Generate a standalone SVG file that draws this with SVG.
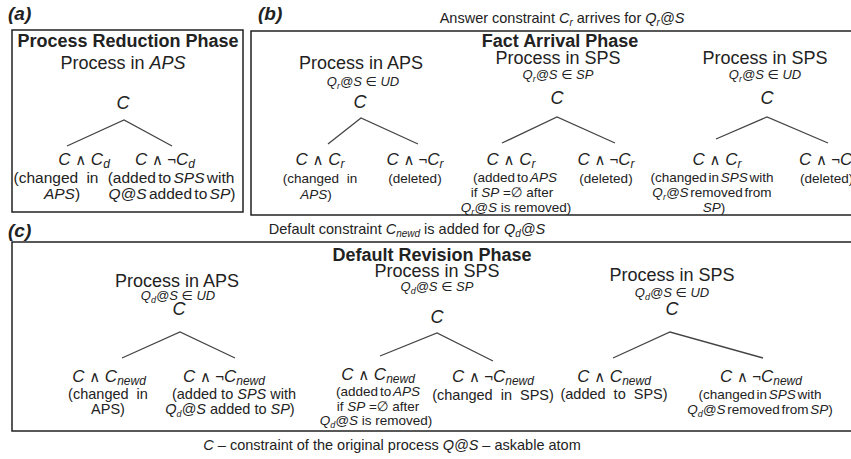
<svg xmlns="http://www.w3.org/2000/svg" width="851" height="459" viewBox="0 0 851 459">
<style>
text{font-family:"Liberation Sans","DejaVu Sans",Arial,sans-serif;fill:#222}
.lab{font-size:19px;font-weight:bold;font-style:italic}
.ttl{font-size:18px;font-weight:bold;text-anchor:middle}
.pr{font-size:18px;text-anchor:middle}
.q{font-size:13px;font-style:italic;text-anchor:middle}
.c{font-size:18px;font-style:italic;text-anchor:middle}
.ex{font-size:17px;font-style:italic;text-anchor:middle}
.op{font-style:normal;font-size:15px}
.an{font-size:13.5px;text-anchor:middle}
.anA{font-size:15.5px;text-anchor:middle}
.anC{font-size:14.5px;text-anchor:middle}
.tight{word-spacing:-2px}
.wide{word-spacing:4px}
.cap{font-size:14.5px;text-anchor:middle}
.st{text-anchor:start}
.n{font-style:normal}
.i{font-style:italic}
.box{fill:none;stroke:#222;stroke-width:1.5}
.ln{stroke:#444;stroke-width:1.3;fill:none}
</style>
<rect width="851" height="459" fill="#fff"/>
<g id="frames">
<rect class="box" x="12" y="30" width="231" height="182"/>
<rect class="box" x="251" y="31" width="620" height="184"/>
<rect class="box" x="12" y="242" width="860" height="189"/>
</g>
<g id="labels">
<text class="lab" x="8" y="20">(a)</text>
<text class="lab" x="258" y="20">(b)</text>
<text class="lab" x="8" y="237">(c)</text>
<text class="cap" x="562" y="23">Answer constraint <tspan class="i">C<tspan font-size="10" dy="3">r</tspan></tspan><tspan dy="-3"> arrives  for </tspan><tspan class="i">Q<tspan font-size="10" dy="3">r</tspan><tspan dy="-3">@S</tspan></tspan></text>
<text class="cap" x="407" y="234">Default  constraint <tspan class="i">C<tspan font-size="10" dy="3">newd</tspan></tspan><tspan dy="-3"> is added for </tspan><tspan class="i">Q<tspan font-size="10" dy="3">d</tspan><tspan dy="-3">@S</tspan></tspan></text>
<text class="cap" x="392" y="450"><tspan class="i">C</tspan> – constraint of the original  process <tspan class="i">Q@S</tspan> – askable atom</text>
</g>
<g id="connectors">
<polyline class="ln" points="67,146 124,120 172,146"/>
<polyline class="ln" points="328,144 361,118 418,144"/>
<polyline class="ln" points="502,143 557,117 615,143"/>
<polyline class="ln" points="716,139 767,117 828,143"/>
<polyline class="ln" points="122,358 180,332 235,358"/>
<polyline class="ln" points="380,356 437,333 493,361"/>
<polyline class="ln" points="613,358 670,332 763,358"/>
</g>
<g id="panel-a">
<text class="ttl" x="128" y="47" font-size="18.3">Process Reduction Phase</text>
<text class="pr" x="123" y="69">Process in <tspan class="i">APS</tspan></text>
<text class="c" x="123" y="109">C</text>
<text class="ex" x="84" y="165">C <tspan class="op">∧</tspan> C<tspan font-size="12" dy="3">d</tspan></text>
<text class="anA wide" x="56" y="183">(changed in</text>
<text class="anA" x="62" y="199"><tspan class="i">APS</tspan>)</text>
<text class="ex" x="165" y="165">C <tspan class="op">∧ ¬</tspan>C<tspan font-size="12" dy="3">d</tspan></text>
<text class="anA tight" x="171" y="183">(added to <tspan class="i">SPS</tspan> with</text>
<text class="anA tight" x="172" y="199"><tspan class="i">Q@S</tspan> added to <tspan class="i">SP</tspan>)</text>
</g>
<g id="panel-b">
<text class="ttl" x="560" y="47">Fact Arrival  Phase</text>
<g id="b-tree1">
<text class="pr" x="361" y="69">Process in APS</text>
<text class="q" x="363" y="86">Q<tspan font-size="9" dy="3">r</tspan><tspan dy="-3">@S </tspan><tspan class="n">∈</tspan> UD</text>
<text class="c" x="360" y="108">C</text>
<text class="ex" x="320" y="165">C <tspan class="op">∧</tspan> C<tspan font-size="12" dy="3">r</tspan></text>
<text class="an wide" x="320" y="183">(changed in</text>
<text class="an" x="316" y="199"><tspan class="i">APS</tspan>)</text>
<text class="ex" x="415" y="165">C <tspan class="op">∧ ¬</tspan>C<tspan font-size="12" dy="3">r</tspan></text>
<text class="an" x="415" y="183">(deleted)</text>
</g>
<g id="b-tree2">
<text class="pr" x="558" y="64">Process in SPS</text>
<text class="q" x="558" y="79">Q<tspan font-size="9" dy="3">r</tspan><tspan dy="-3">@S </tspan><tspan class="n">∈</tspan> SP</text>
<text class="c" x="557" y="104">C</text>
<text class="ex" x="511" y="165">C <tspan class="op">∧</tspan> C<tspan font-size="12" dy="3">r</tspan></text>
<text class="an tight" x="515" y="182">(added to <tspan class="i">APS</tspan></text>
<text class="an" x="512" y="197">if <tspan class="i">SP</tspan> =∅ after</text>
<text class="an" x="516" y="212"><tspan class="i">Q<tspan font-size="9" dy="3">r</tspan><tspan dy="-3">@S</tspan></tspan> is removed)</text>
<text class="ex" x="606" y="165">C <tspan class="op">∧ ¬</tspan>C<tspan font-size="12" dy="3">r</tspan></text>
<text class="an" x="606" y="183">(deleted)</text>
</g>
<g id="b-tree3">
<text class="pr" x="765" y="64">Process in SPS</text>
<text class="q" x="765" y="79">Q<tspan font-size="9" dy="3">r</tspan><tspan dy="-3">@S </tspan><tspan class="n">∈</tspan> UD</text>
<text class="c" x="767" y="104">C</text>
<text class="ex" x="717" y="165">C <tspan class="op">∧</tspan> C<tspan font-size="12" dy="3">r</tspan></text>
<text class="an tight" x="712" y="182">(changed in <tspan class="i">SPS</tspan> with</text>
<text class="an tight" x="712" y="197"><tspan class="i">Q<tspan font-size="9" dy="3">r</tspan><tspan dy="-3">@S</tspan></tspan> removed from</text>
<text class="an" x="714" y="212"><tspan class="i">SP</tspan>)</text>
<text class="ex st" x="799" y="165">C <tspan class="op">∧ ¬</tspan>C<tspan font-size="12" dy="3">r</tspan></text>
<text class="an st" x="800" y="183">(deleted)</text>
</g>
</g>
<g id="panel-c">
<text class="ttl" x="432" y="261">Default Revision Phase</text>
<g id="c-tree1">
<text class="pr" x="177" y="287">Process in APS</text>
<text class="q" x="178" y="300">Q<tspan font-size="9" dy="3">d</tspan><tspan dy="-3">@S </tspan><tspan class="n">∈</tspan> UD</text>
<text class="c" x="179" y="315">C</text>
<text class="ex" x="109" y="382">C <tspan class="op">∧</tspan> C<tspan font-size="12" dy="3">newd</tspan></text>
<text class="anC wide" x="108" y="399">(changed in</text>
<text class="anC" x="108" y="414">APS)</text>
<text class="ex" x="224" y="382">C <tspan class="op">∧ ¬</tspan>C<tspan font-size="12" dy="3">newd</tspan></text>
<text class="anC" x="234" y="399">(added to <tspan class="i">SPS</tspan> with</text>
<text class="anC" x="230" y="414"><tspan class="i">Q<tspan font-size="9" dy="3">d</tspan><tspan dy="-3">@S</tspan></tspan> added to <tspan class="i">SP</tspan>)</text>
</g>
<g id="c-tree2">
<text class="pr" x="437" y="277">Process in SPS</text>
<text class="q" x="437" y="291">Q<tspan font-size="9" dy="3">d</tspan><tspan dy="-3">@S </tspan><tspan class="n">∈</tspan> SP</text>
<text class="c" x="437" y="323">C</text>
<text class="ex" x="378" y="380">C <tspan class="op">∧</tspan> C<tspan font-size="12" dy="3">newd</tspan></text>
<text class="an tight" x="378" y="396">(added to <tspan class="i">APS</tspan></text>
<text class="an" x="378" y="411">if <tspan class="i">SP</tspan> =∅ after</text>
<text class="an" x="376" y="425"><tspan class="i">Q<tspan font-size="9" dy="3">d</tspan><tspan dy="-3">@S</tspan></tspan> is removed)</text>
<text class="ex" x="493" y="382">C <tspan class="op">∧ ¬</tspan>C<tspan font-size="12" dy="3">newd</tspan></text>
<text class="anC wide" x="493" y="400">(changed in SPS)</text>
</g>
<g id="c-tree3">
<text class="pr" x="672" y="281">Process in SPS</text>
<text class="q" x="672" y="297">Q<tspan font-size="9" dy="3">d</tspan><tspan dy="-3">@S </tspan><tspan class="n">∈</tspan> UD</text>
<text class="c" x="672" y="315">C</text>
<text class="ex" x="614" y="382">C <tspan class="op">∧</tspan> C<tspan font-size="12" dy="3">newd</tspan></text>
<text class="anC wide" x="614" y="399">(added to SPS)</text>
<text class="ex" x="761" y="382">C <tspan class="op">∧ ¬</tspan>C<tspan font-size="12" dy="3">newd</tspan></text>
<text class="an tight" x="760" y="399">(changed in <tspan class="i">SPS</tspan> with</text>
<text class="an tight" x="760" y="414"><tspan class="i">Q<tspan font-size="9" dy="3">d</tspan><tspan dy="-3">@S</tspan></tspan> removed from <tspan class="i">SP</tspan>)</text>
</g>
</g>
</svg>
